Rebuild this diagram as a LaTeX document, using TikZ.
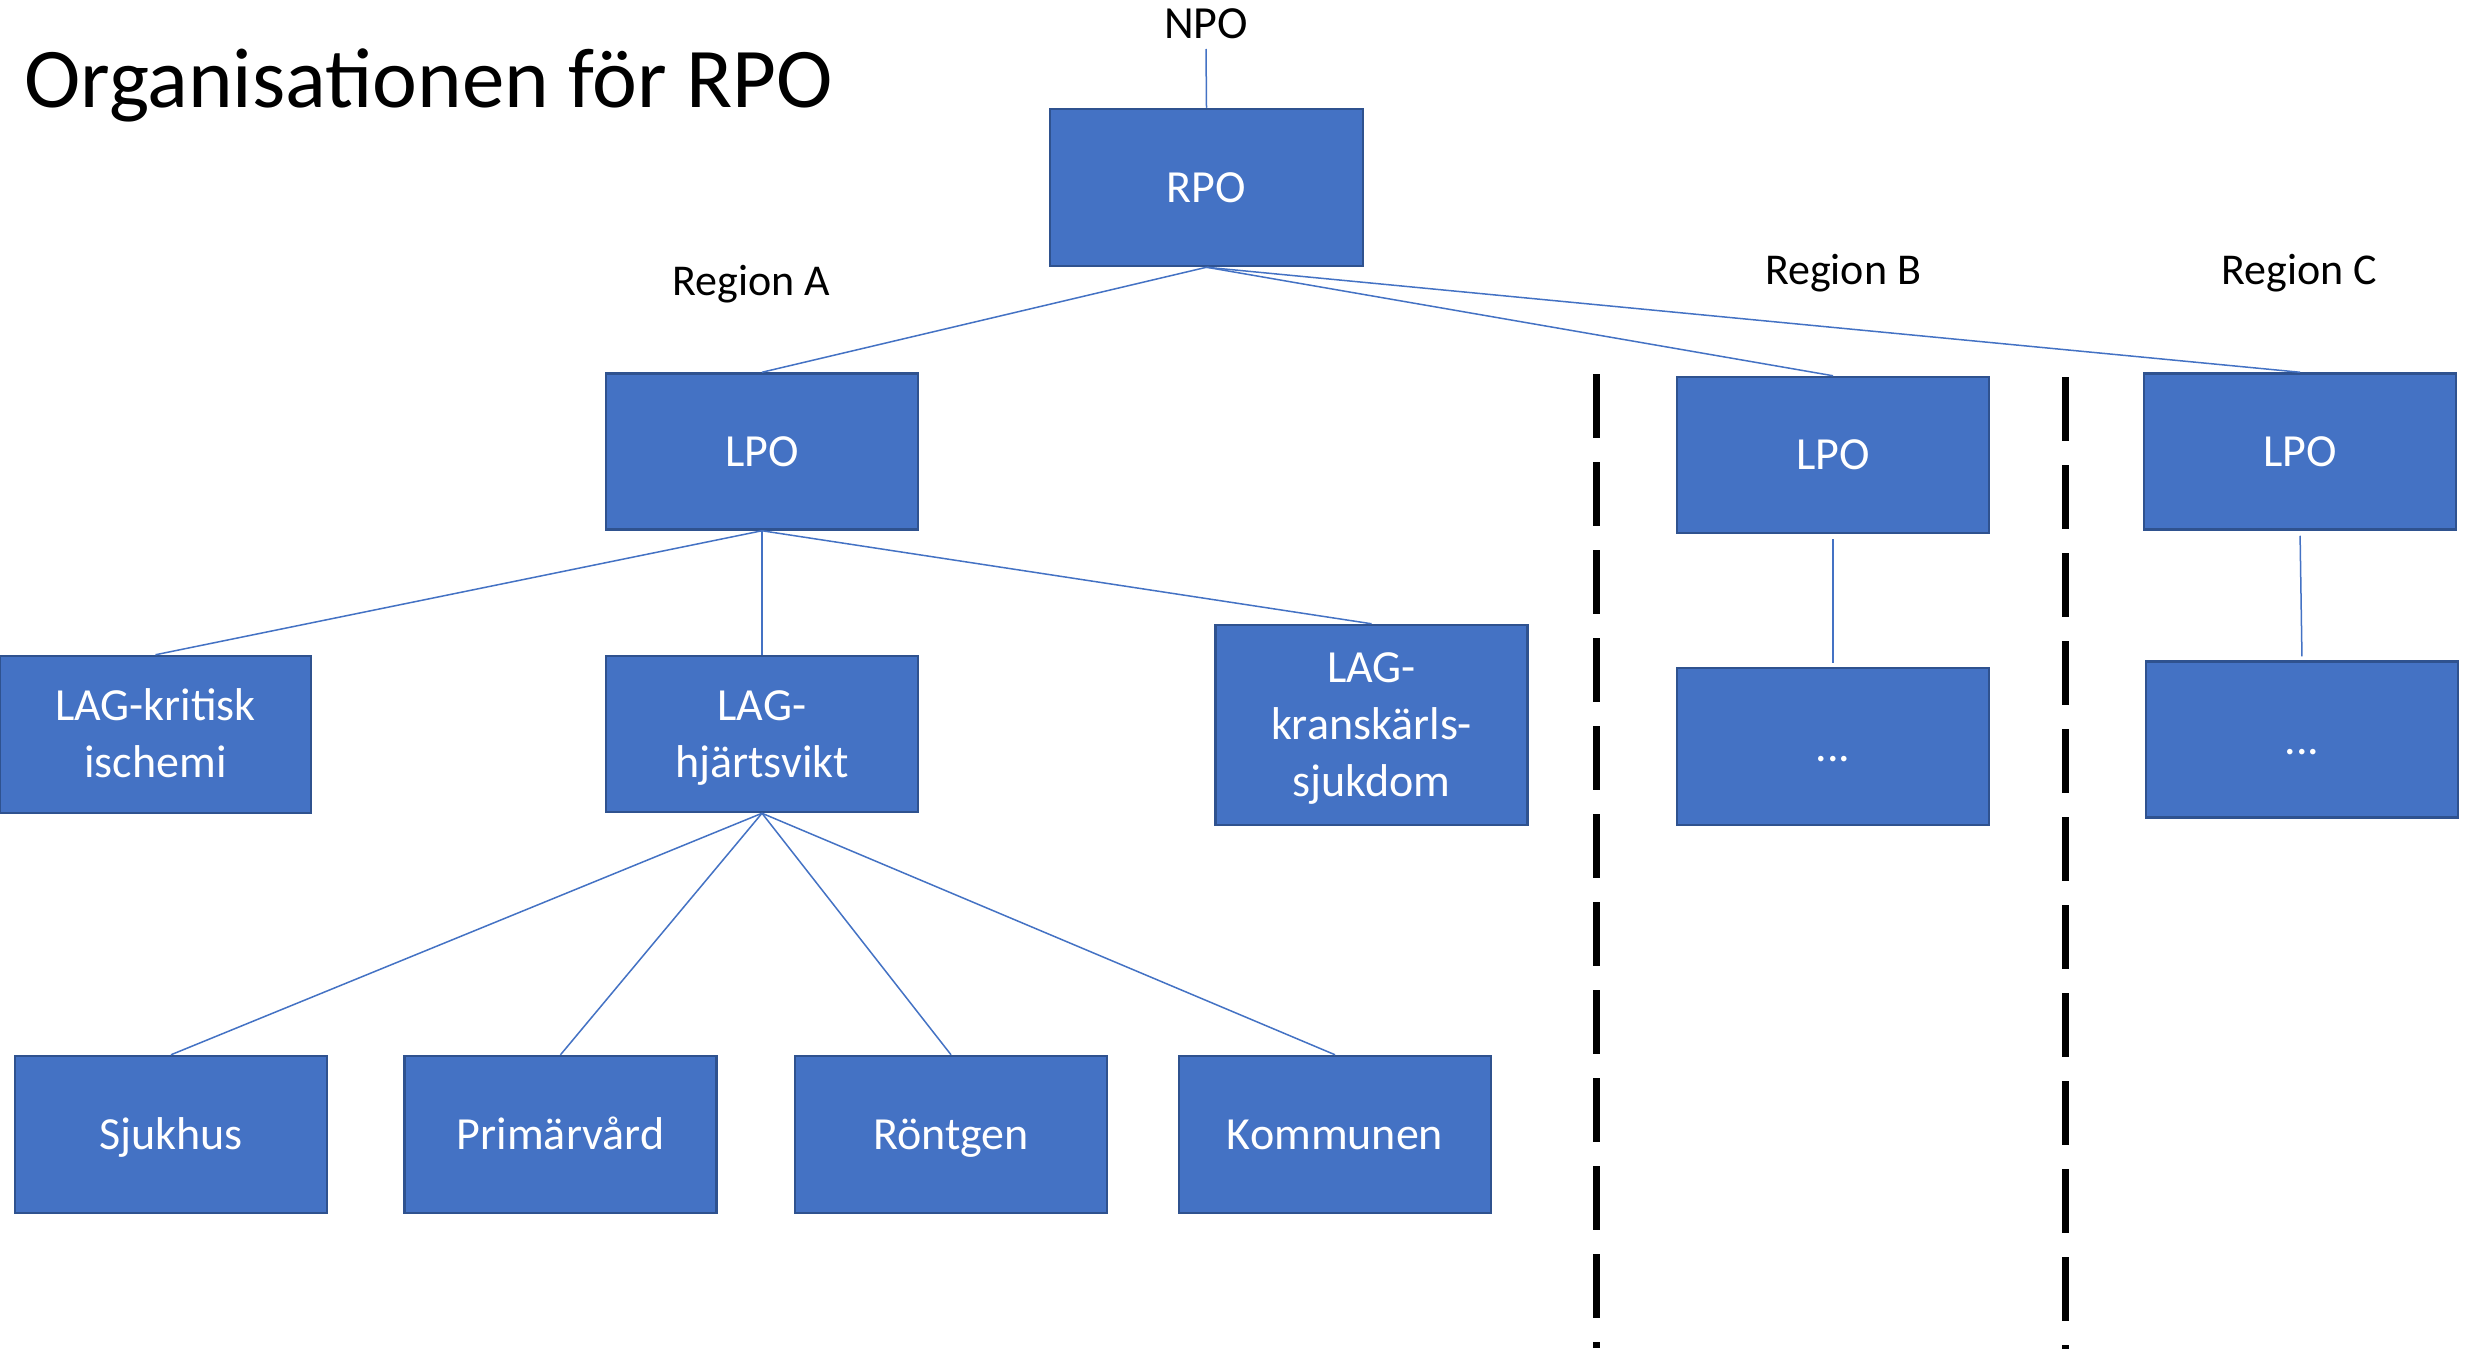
\documentclass[tikz,border=0pt]{standalone}
\usepackage{fontspec}
\setmainfont{Carlito}
\definecolor{boxfill}{HTML}{4472C4}
\definecolor{boxline}{HTML}{2F528F}
\definecolor{conn}{HTML}{4472C4}
\begin{document}
\begin{tikzpicture}[x=1pt,y=-1pt,
  orgbox/.style={rectangle, fill=boxfill, draw=boxline, line width=2.5pt, text=white,
    font=\fontsize{46}{57}\selectfont, align=center, inner sep=0pt,
    text height=29.6pt, text depth=0pt,
    minimum width=312pt, minimum height=156pt},
  twoline/.style={text height=86.6pt},
  threeline/.style={text height=143.6pt},
  link/.style={draw=conn, line width=1.5pt},
  sep/.style={draw=black, line width=7pt, dash pattern=on 64pt off 24pt},
  lab/.style={font=\fontsize{44}{53}\selectfont, inner sep=0pt, anchor=base}]
\useasboundingbox (0,0) rectangle (2483,1354);
\fill[white] (0,0) rectangle (2483,1354);

% title and labels
\node[font=\fontsize{85}{100}\selectfont, inner sep=0pt, anchor=base west] (title) at (24,107) {Organisationen för RPO};
\node[lab, font=\fontsize{46}{55}\selectfont] (npo) at (1206,38) {NPO};
\node[lab] (rega) at (751,295) {Region A};
\node[lab] (regb) at (1843,284) {Region B};
\node[lab] (regc) at (2299,284) {Region C};

% boxes
\node[orgbox, minimum width=313pt, minimum height=157pt] (rpo) at (1206.5,187.5) {RPO};
\node[orgbox] (lpoa) at (762,451.5) {LPO};
\node[orgbox] (lpob) at (1833,455) {LPO};
\node[orgbox] (lpoc) at (2300,451.5) {LPO};
\node[orgbox, minimum height=157pt] (dotsb) at (1833,746.5) {...};
\node[orgbox] (dotsc) at (2302,739.5) {...};
\node[orgbox, twoline, minimum width=311pt, minimum height=157pt] (lagk) at (155.5,734.5) {LAG-kritisk\\ischemi};
\node[orgbox, twoline] (lagh) at (762,734) {LAG-\\hjärtsvikt};
\node[orgbox, threeline, minimum height=200pt] (lagkr) at (1371.5,725) {LAG-\\kranskärls-\\sjukdom};
\node[orgbox, minimum height=157pt] (sjuk) at (171,1134.5) {Sjukhus};
\node[orgbox, minimum height=157pt] (prim) at (560.5,1134.5) {Primärvård};
\node[orgbox, minimum height=157pt] (ront) at (951,1134.5) {Röntgen};
\node[orgbox, minimum height=157pt] (komm) at (1335,1134.5) {Kommunen};

% connectors
\coordinate (npoend) at (1206,49);
\draw[link] (npoend) -- (rpo.north);
\draw[link] (rpo.south) -- (lpoa.north);
\draw[link] (rpo.south) -- (lpob.north);
\draw[link] (rpo.south) -- (lpoc.north);
\draw[link] (lpoa.south) -- (lagk.north);
\draw[link] (lpoa.south) -- (lagh.north);
\draw[link] (lpoa.south) -- (lagkr.north);
\draw[link] (lagh.south) -- (sjuk.north);
\draw[link] (lagh.south) -- (prim.north);
\draw[link] (lagh.south) -- (ront.north);
\draw[link] (lagh.south) -- (komm.north);
\draw[link, shorten <=5pt, shorten >=4pt] (lpob.south) -- (dotsb.north);
\draw[link, shorten <=5pt, shorten >=4pt] (lpoc.south) -- (dotsc.north);

% region separators
\coordinate (s1a) at (1596,374);
\coordinate (s1b) at (1596,1348);
\coordinate (s2a) at (2065,377);
\coordinate (s2b) at (2065,1349);
\draw[sep] (s1a) -- (s1b);
\draw[sep] (s2a) -- (s2b);
\end{tikzpicture}
\end{document}
